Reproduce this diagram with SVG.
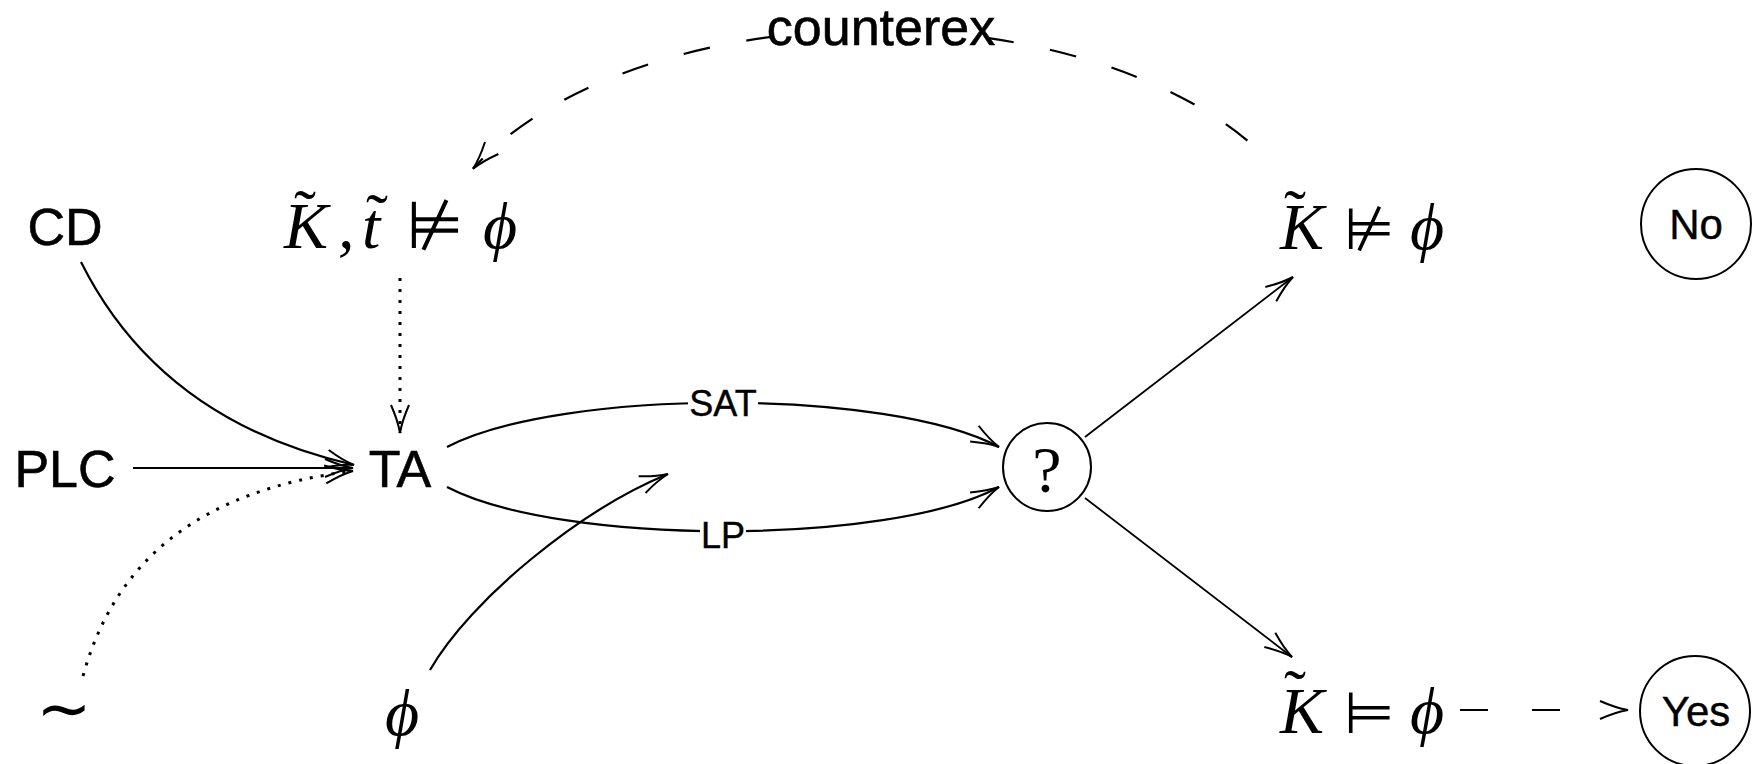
<svg xmlns="http://www.w3.org/2000/svg" width="1754" height="764" viewBox="0 0 1754 764">
  <style>
    .lbl{font-family:"Liberation Sans",Arial,sans-serif;font-size:52px;text-anchor:middle;fill:#000;stroke:#000;stroke-width:0.6}
    .edge{font-family:"Liberation Sans",Arial,sans-serif;font-size:36px;text-anchor:middle;fill:#000;stroke:#000;stroke-width:0.4}
    .ans{font-family:"Liberation Sans",Arial,sans-serif;font-size:42px;text-anchor:middle;fill:#000;stroke:#000;stroke-width:0.4}
    .m{font-family:"Liberation Serif","Times New Roman",serif;font-style:italic;font-size:66px;fill:#000}
    .acc{font-family:"Liberation Serif","Times New Roman",serif;font-size:66px;text-anchor:middle;fill:#000}
    .sym{font-family:"DejaVu Sans",sans-serif;font-style:normal}
    .rel{font-family:"DejaVu Sans",sans-serif;font-style:normal;font-size:58px}
    .phi{font-family:"Liberation Serif","DejaVu Serif",serif;font-style:italic}
    .c{fill:none;stroke:#000;stroke-width:2.2}
    .thin{stroke-width:1.8}
    .dot{stroke-width:3;stroke-dasharray:3 8}
    .dash{stroke-dasharray:27 37}
    .ring{fill:#fff;stroke:#000;stroke-width:2}
  </style>
  <defs>
    <marker id="ah" markerUnits="userSpaceOnUse" markerWidth="40" markerHeight="30" viewBox="-30 -15 40 30" refX="0" refY="0" orient="auto" overflow="visible">
      <path d="M-28,-9 Q-12,-2 0,0 Q-12,2 -28,9" fill="none" stroke="#000" stroke-width="2" stroke-dasharray="none"/>
    </marker>
  </defs>
  <rect width="1754" height="764" fill="#fff"/>

  <!-- connectors -->
  <g id="connectors">
    <path class="c" d="M81,262 C141,382 244,440 354,465" marker-end="url(#ah)"/>
    <path class="c" d="M133,468 H353" marker-end="url(#ah)"/>
    <path class="c dot" d="M83,676 C115,560 200,490 353,471" marker-end="url(#ah)"/>
    <path class="c dot" d="M400,278 V433" marker-end="url(#ah)"/>
    <path class="c" d="M447,447 C560,388 890,388 999,447" marker-end="url(#ah)"/>
    <path class="c" d="M447,487 C560,546 890,546 999,487" marker-end="url(#ah)"/>
    <rect x="688" y="389" width="70" height="28" fill="#fff"/>
    <rect x="700" y="521" width="46" height="28" fill="#fff"/>
    <text class="edge" x="723" y="416">SAT</text>
    <text class="edge" x="723" y="548">LP</text>
    <path class="c" d="M430,670 C470,600 580,510 668,474" marker-end="url(#ah)"/>
    <path class="c thin" d="M1085,437 L1293,277" marker-end="url(#ah)"/>
    <path class="c thin" d="M1085,498 L1292,657" marker-end="url(#ah)"/>
    <path class="c dash" d="M987,37.9 A450,252 0 0 1 1253,145.3"/>
    <path class="c dash" d="M773,36.6 A450,252 0 0 0 473,168.8" marker-end="url(#ah)"/>
    <text class="lbl" x="881" y="45">counterex</text>
    <path class="c" d="M1460,710 H1628" stroke-dasharray="28 44 28 200" marker-end="url(#ah)"/>
  </g>

  <g id="node-cd"><text class="lbl" x="65" y="245">CD</text></g>
  <g id="node-plc"><text class="lbl" x="65" y="487">PLC</text></g>
  <g id="node-sim"><text class="sym" x="64" y="731" font-size="66" text-anchor="middle">∼</text></g>
  <g id="node-ta"><text class="lbl" x="400" y="487">TA</text></g>
  <g id="node-phi"><text class="m phi" x="402" y="735" text-anchor="middle">ϕ</text></g>

  <g id="node-cex">
    <text class="m" y="248"><tspan x="284">K</tspan><tspan x="338">,</tspan><tspan x="362">t</tspan><tspan class="sym" x="406">⊭</tspan><tspan class="phi" x="483">ϕ</tspan></text>
    <text class="acc" x="305" y="235">˜</text>
    <text class="acc" x="377" y="239">˜</text>
  </g>

  <g id="node-check">
    <circle class="ring" cx="1047" cy="467" r="44"/>
    <text class="acc" x="1047" y="492">?</text>
  </g>

  <g id="node-fail">
    <text class="m" y="249"><tspan x="1280">K</tspan><tspan class="rel" x="1344">⊭</tspan><tspan class="phi" x="1410">ϕ</tspan></text>
    <text class="acc" x="1295" y="235">˜</text>
  </g>

  <g id="node-pass">
    <text class="m" y="733"><tspan x="1280">K</tspan><tspan class="rel" x="1344">⊨</tspan><tspan class="phi" x="1410">ϕ</tspan></text>
    <text class="acc" x="1295" y="715">˜</text>
  </g>

  <g id="node-no">
    <circle class="ring" cx="1696" cy="224" r="55"/>
    <text class="ans" x="1696" y="239">No</text>
  </g>

  <g id="node-yes">
    <circle class="ring" cx="1695" cy="711" r="55"/>
    <text class="ans" x="1696" y="726">Yes</text>
  </g>
</svg>
